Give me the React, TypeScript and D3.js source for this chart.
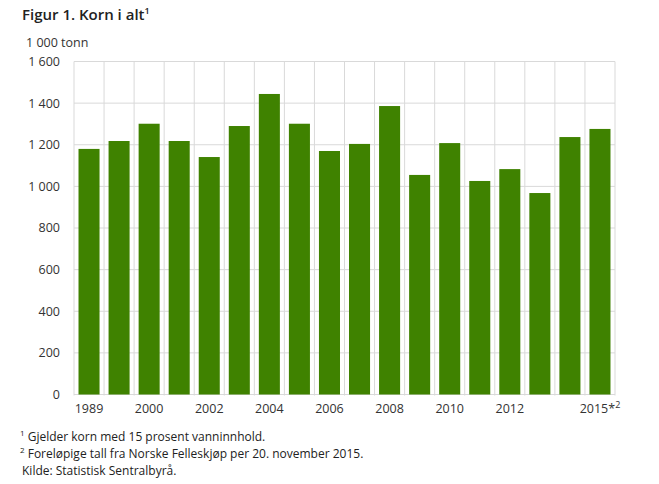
import React from "react";
import * as d3 from "d3";

const categories = ["1989","1999","2000","2001","2002","2003","2004","2005","2006","2007","2008","2009","2010","2011","2012","2013","2014","2015"];
const values = [1180,1218,1301,1218,1141,1290,1444,1301,1170,1204,1386,1055,1208,1026,1083,968,1237,1276];
const shownLabels = ["1989","2000","2002","2004","2006","2008","2010","2012","2015"];
const yTicks = [0,200,400,600,800,1000,1200,1400,1600];

const W = 659, H = 484;
const left = 74, right = 615, top = 61.5, bottom = 394.5;

function fmt(v: number) {
  return v >= 1000 ? `${Math.floor(v / 1000)} ${String(v % 1000).padStart(3, "0")}` : String(v);
}

export default function App() {
  const x = d3.scaleBand<string>().domain(categories).range([left, right]).paddingInner(0.3).paddingOuter(0.15);
  const y = d3.scaleLinear().domain([0, 1600]).range([bottom, top]);
  const font = "'Open Sans', sans-serif";
  const boundaries = d3.range(categories.length + 1).map(i => left + i * (right - left) / categories.length);
  return (
    <svg width={W} height={H} style={{ position: "absolute", left: 0, top: 0, background: "#fff" }} fontFamily={font}>
      <text x={22} y={20} fontSize={15} fontWeight={600} fill="#222">Figur 1. Korn i alt<tspan fontSize={9} dy={-6}>1</tspan></text>
      <text x={26} y={47} fontSize={12.5} fill="#333">1 000 tonn</text>
      {yTicks.map(t => (
        <g key={t}>
          <line x1={left} x2={right} y1={y(t)} y2={y(t)} stroke="#d9d9d9" strokeWidth={1} />
          <text x={60} y={y(t)} dy="0.35em" textAnchor="end" fontSize={12.5} fill="#333">{fmt(t)}</text>
        </g>
      ))}
      {boundaries.map((b, i) => (
        <line key={i} x1={b} x2={b} y1={top} y2={bottom + 1} stroke="#d9d9d9" strokeWidth={1} />
      ))}
      {categories.map((c, i) => (
        <rect key={c} x={x(c)} y={y(values[i])} width={x.bandwidth()} height={bottom - y(values[i])} fill="#3f8200" />
      ))}
      {shownLabels.map(c => (
        <text key={c} x={(x(c) as number) + x.bandwidth() / 2} y={413} textAnchor="middle" fontSize={12.5} fill="#333">
          {c === "2015" ? (<>{"2015*"}<tspan fontSize={9} dy={-5}>2</tspan></>) : c}
        </text>
      ))}
      <text x={20} y={441} fontSize={12} fill="#222"><tspan fontSize={8} dy={-5}>1</tspan><tspan dy={5}> Gjelder korn med 15 prosent vanninnhold.</tspan></text>
      <text x={20} y={458} fontSize={12} fill="#222"><tspan fontSize={8} dy={-5}>2</tspan><tspan dy={5}> Foreløpige tall fra Norske Felleskjøp per 20. november 2015.</tspan></text>
      <text x={22} y={475} fontSize={12} fill="#222">Kilde: Statistisk Sentralbyrå.</text>
    </svg>
  );
}
